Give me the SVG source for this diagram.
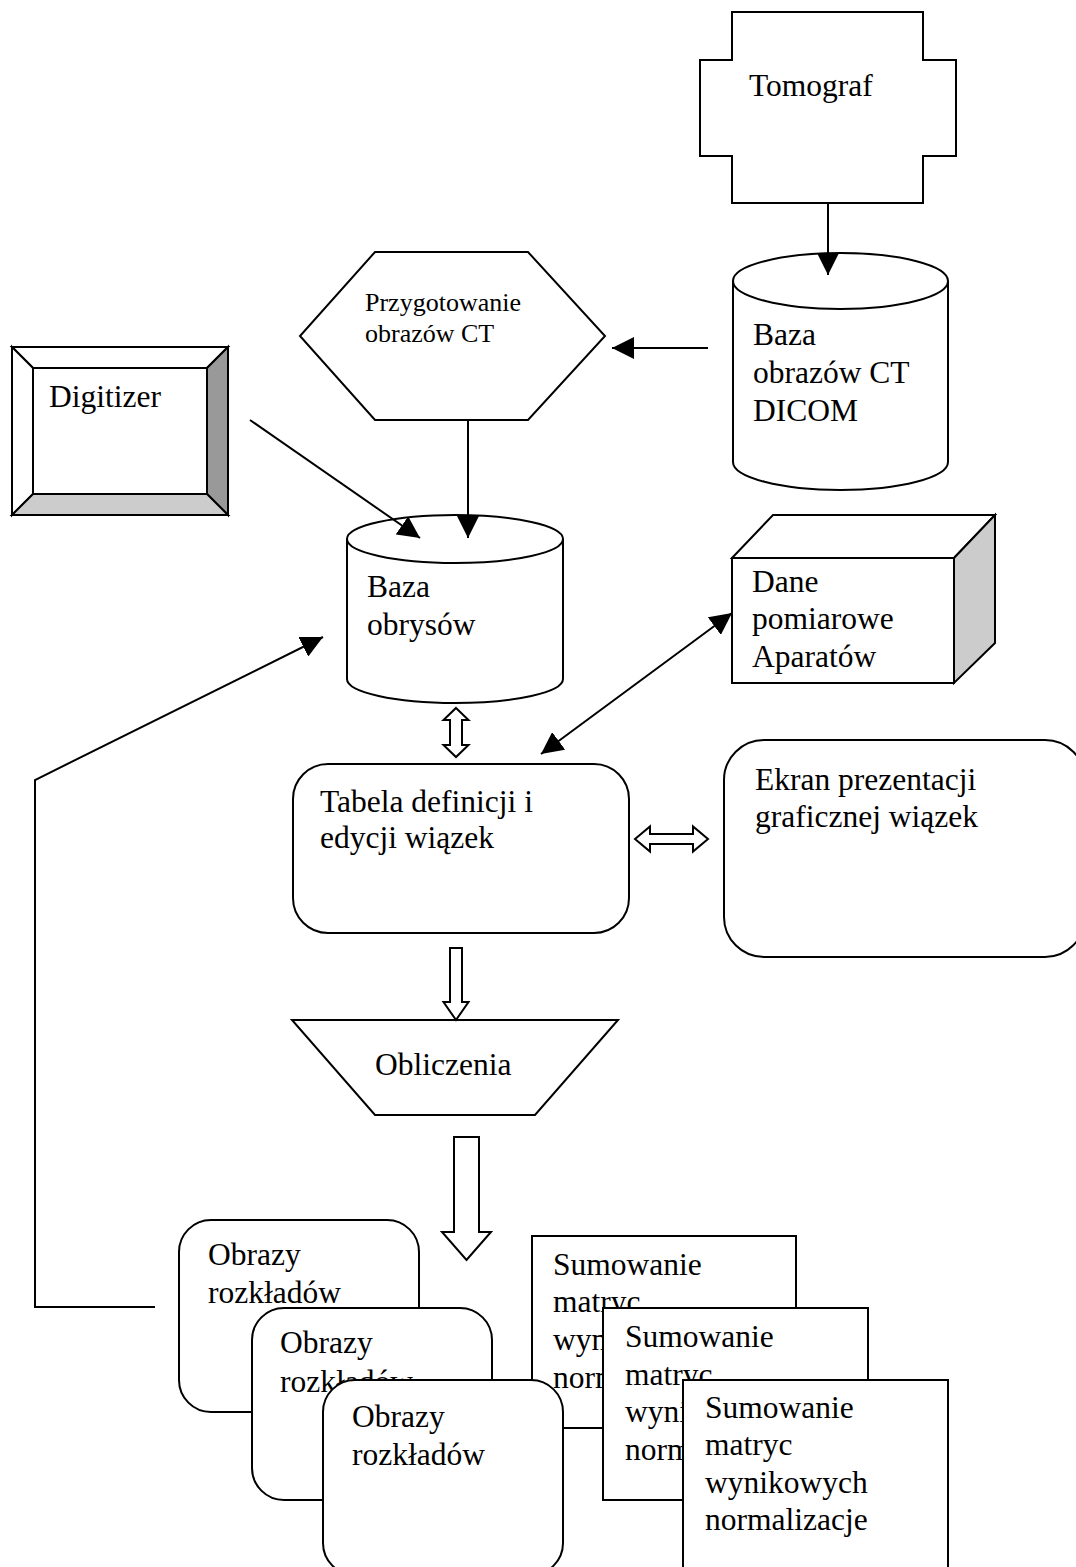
<svg xmlns="http://www.w3.org/2000/svg" width="1076" height="1567" viewBox="0 0 1076 1567">
<style>
.s{fill:#fff;stroke:#000;stroke-width:2}
.t{font-family:"Liberation Serif","Times New Roman",serif;font-size:31.5px;fill:#000}
.ts{font-family:"Liberation Serif","Times New Roman",serif;font-size:26px;fill:#000}
.c{fill:none;stroke:#000;stroke-width:2}
</style>
<defs>
<marker id="ah" markerUnits="userSpaceOnUse" markerWidth="22" markerHeight="22" refX="20" refY="10" orient="auto-start-reverse" viewBox="0 0 20 20">
<path d="M0,0 L20,10 L0,20 z" fill="#000"/>
</marker>
</defs>
<rect width="1076" height="1567" fill="#fff"/>

<g id="tomograf">
<path class="s" d="M732,12 L923,12 L923,60 L956,60 L956,156 L923,156 L923,203 L732,203 L732,156 L700,156 L700,60 L732,60 Z"/>
<text class="t" x="749" y="96">Tomograf</text>
</g>

<g id="baza-ct">
<path class="s" d="M733,281 L733,462 A107.5,28 0 0 0 948,462 L948,281"/>
<ellipse class="s" cx="840.5" cy="281" rx="107.5" ry="28"/>
<text class="t" x="753" y="345">Baza</text>
<text class="t" x="753" y="383">obrazów CT</text>
<text class="t" x="753" y="421">DICOM</text>
</g>

<g id="przygotowanie">
<polygon class="s" points="375,252 528,252 605,336 528,420 375,420 300,336"/>
<text class="ts" x="365" y="311">Przygotowanie</text>
<text class="ts" x="365" y="342">obrazów CT</text>
</g>

<g id="digitizer">
<polygon points="12,347 228,347 207,368 33,368" fill="#fff" stroke="#000" stroke-width="2"/>
<polygon points="12,347 33,368 33,494 12,515" fill="#fff" stroke="#000" stroke-width="2"/>
<polygon points="228,347 228,515 207,494 207,368" fill="#999" stroke="#000" stroke-width="2"/>
<polygon points="12,515 33,494 207,494 228,515" fill="#ccc" stroke="#000" stroke-width="2"/>
<rect x="33" y="368" width="174" height="126" class="s"/>
<rect x="12" y="347" width="216" height="168" fill="none" stroke="#000" stroke-width="2"/>
<text class="t" x="49" y="407">Digitizer</text>
</g>

<g id="baza-obrysow">
<path class="s" d="M347,539 L347,679 A108,24 0 0 0 563,679 L563,539"/>
<ellipse class="s" cx="455" cy="539" rx="108" ry="24"/>
<text class="t" x="367" y="597">Baza</text>
<text class="t" x="367" y="635">obrysów</text>
</g>

<g id="dane">
<polygon class="s" points="732,558 773,515 995,515 954,558"/>
<polygon points="954,558 995,515 995,643 954,683" fill="#ccc" stroke="#000" stroke-width="2"/>
<rect class="s" x="732" y="558" width="222" height="125"/>
<text class="t" x="752" y="592">Dane</text>
<text class="t" x="752" y="629">pomiarowe</text>
<text class="t" x="752" y="667">Aparatów</text>
</g>

<g id="tabela">
<rect class="s" x="293" y="764" width="336" height="169" rx="35"/>
<text class="t" x="320" y="812">Tabela definicji i</text>
<text class="t" x="320" y="848">edycji wiązek</text>
</g>

<g id="ekran">
<rect class="s" x="724" y="740" width="361" height="217" rx="40"/>
<text class="t" x="755" y="790">Ekran prezentacji</text>
<text class="t" x="755" y="827">graficznej wiązek</text>
</g>

<g id="obliczenia">
<polygon class="s" points="292,1020 618,1020 535,1115 375,1115"/>
<text class="t" x="375" y="1075">Obliczenia</text>
</g>

<g id="obrazy1">
<rect class="s" x="179" y="1220" width="240" height="192" rx="32"/>
<text class="t" x="208" y="1265">Obrazy</text>
<text class="t" x="208" y="1303">rozkładów</text>
</g>
<g id="obrazy2">
<rect class="s" x="252" y="1308" width="240" height="192" rx="32"/>
<text class="t" x="280" y="1353">Obrazy</text>
<text class="t" x="280" y="1392">rozkładów</text>
</g>
<g id="sumowanie1">
<rect class="s" x="532" y="1236" width="264" height="192"/>
<text class="t" x="553" y="1275">Sumowanie</text>
<text class="t" x="553" y="1312">matryc</text>
<text class="t" x="553" y="1350">wynikowych</text>
<text class="t" x="553" y="1388">normalizacje</text>
</g>
<g id="obrazy3">
<rect class="s" x="323" y="1380" width="240" height="195" rx="32"/>
<text class="t" x="352" y="1427">Obrazy</text>
<text class="t" x="352" y="1465">rozkładów</text>
</g>
<g id="sumowanie2">
<rect class="s" x="603" y="1308" width="265" height="192"/>
<text class="t" x="625" y="1347">Sumowanie</text>
<text class="t" x="625" y="1385">matryc</text>
<text class="t" x="625" y="1422">wynikowych</text>
<text class="t" x="625" y="1460">normalizacje</text>
</g>
<g id="sumowanie3">
<rect class="s" x="683" y="1380" width="265" height="200"/>
<text class="t" x="705" y="1418">Sumowanie</text>
<text class="t" x="705" y="1455">matryc</text>
<text class="t" x="705" y="1493">wynikowych</text>
<text class="t" x="705" y="1530">normalizacje</text>
</g>

<g id="connectors">
<line class="c" x1="828" y1="203" x2="828" y2="275" marker-end="url(#ah)"/>
<line class="c" x1="708" y1="348" x2="612" y2="348" marker-end="url(#ah)"/>
<line class="c" x1="468" y1="420" x2="468" y2="538" marker-end="url(#ah)"/>
<line class="c" x1="250" y1="420" x2="420" y2="538" marker-end="url(#ah)"/>
<line class="c" x1="732" y1="613" x2="541" y2="754" marker-start="url(#ah)" marker-end="url(#ah)"/>
<polyline class="c" points="155,1307 35,1307 35,780 323,637" marker-end="url(#ah)"/>
<polygon class="s" points="456,708 468.5,720 462,720 462,745 468.5,745 456,757 443.5,745 450,745 450,720 443.5,720"/>
<polygon class="s" points="635,839 650,826.5 650,834 693,834 693,826.5 708,839 693,851.5 693,844 650,844 650,851.5"/>
<polygon class="s" points="450,948 462,948 462,1002 468.5,1002 456,1020 443.5,1002 450,1002"/>
<polygon class="s" points="454,1137 479,1137 479,1232 491,1232 466.5,1260 442,1232 454,1232"/>
</g>
</svg>
